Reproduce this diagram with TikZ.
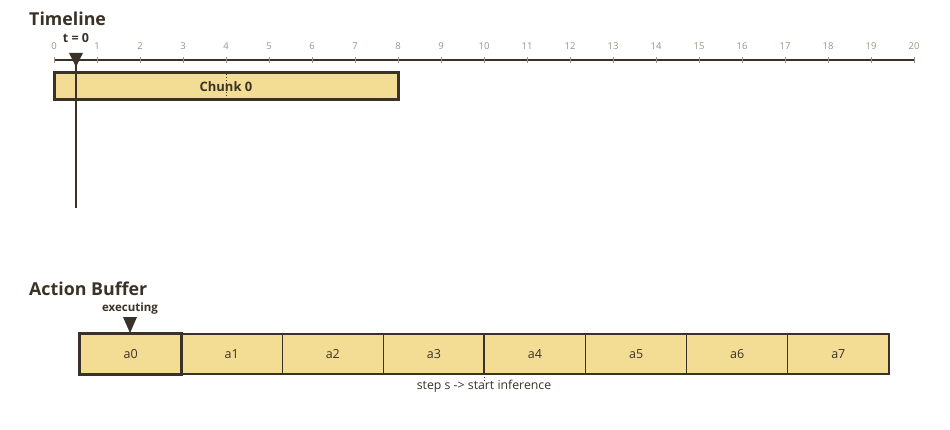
\documentclass[tikz,border=0pt]{standalone}
\usepackage{fontspec}
\setmainfont{Open Sans}
\usepackage{tikz}
\usetikzlibrary{positioning}
\definecolor{ink}{HTML}{3A3227}
\definecolor{chunk}{HTML}{F3DD95}
\definecolor{tickgray}{HTML}{9C9283}

\begin{document}
\begin{tikzpicture}[x=1pt,y=-1pt]
\tikzstyle{title}=[font=\bfseries\fontsize{17.8}{18}\selectfont,text=ink,anchor=west,inner sep=0pt]
\tikzstyle{ticklab}=[font=\fontsize{9.5}{10}\selectfont,text=tickgray,inner sep=0pt]
\tikzstyle{small}=[font=\bfseries\fontsize{11.5}{12}\selectfont,text=ink,inner sep=0pt]
\tikzstyle{chunkbox}=[draw=ink,line width=3pt,fill=chunk,minimum width=344pt,minimum height=27pt,inner sep=0pt,font=\bfseries\fontsize{13}{13}\selectfont,text=ink]
\tikzstyle{cell}=[draw=ink,line width=0.8pt,fill=chunk,minimum width=101.1pt,minimum height=40pt,inner sep=0pt,font=\fontsize{12.5}{13}\selectfont,text=ink]
\useasboundingbox (0,0) rectangle (950,430);
% timeline
\node[title] (tl) at (29,19) {Timeline};
\coordinate (ax0) at (54,60);
\coordinate (ax1) at (914,60);
\draw[ink,line width=1.3pt] (ax0) -- (ax1);
\foreach \k in {0,...,20} {
  \draw[tickgray,line width=0.6pt] (54+43*\k,57) -- (54+43*\k,63);
  \node[ticklab] (lab\k) at (54+43*\k,46) {\k};
}
\node[chunkbox] (c0) at (226,86.5) {Chunk 0};
\draw[ink,dotted,line width=1pt] (c0.north) -- (c0.south);
% now marker
\coordinate (now) at (76,53);
\coordinate (nowend) at (76,208);
\node[small,font=\bfseries\fontsize{12.5}{13}\selectfont] (t0) at (76,38) {t = 0};
\fill[ink] (69,53) -- (83,53) -- (76,67) -- cycle;
\draw[ink,line width=2pt] (now) -- (nowend);
% action buffer
\node[title] (ab) at (29,289) {Action Buffer};
\foreach \i in {0,...,7}
  \node[cell] (a\i) at (130.6+101.1*\i,354) {a\i};
\draw[ink,line width=2pt] (a0.north west) rectangle (a7.south east);
\draw[ink,line width=3pt] (a0.north west) rectangle (a0.south east);
\node[small] (exe) at (130,309) {executing};
\fill[ink] (123,317) -- (137,317) -- (130,333) -- cycle;
\draw[ink,line width=2pt] (a4.north west) -- (a4.south west);
\coordinate (cut) at ([yshift=-7pt]a4.south west);
\draw[ink,dotted,line width=1pt] (a4.south west) -- (cut);
\node[inner sep=0pt,font=\fontsize{12.3}{13}\selectfont,text=ink] (inf) at (484,386) {step s -> start inference};
\end{tikzpicture}
\end{document}
